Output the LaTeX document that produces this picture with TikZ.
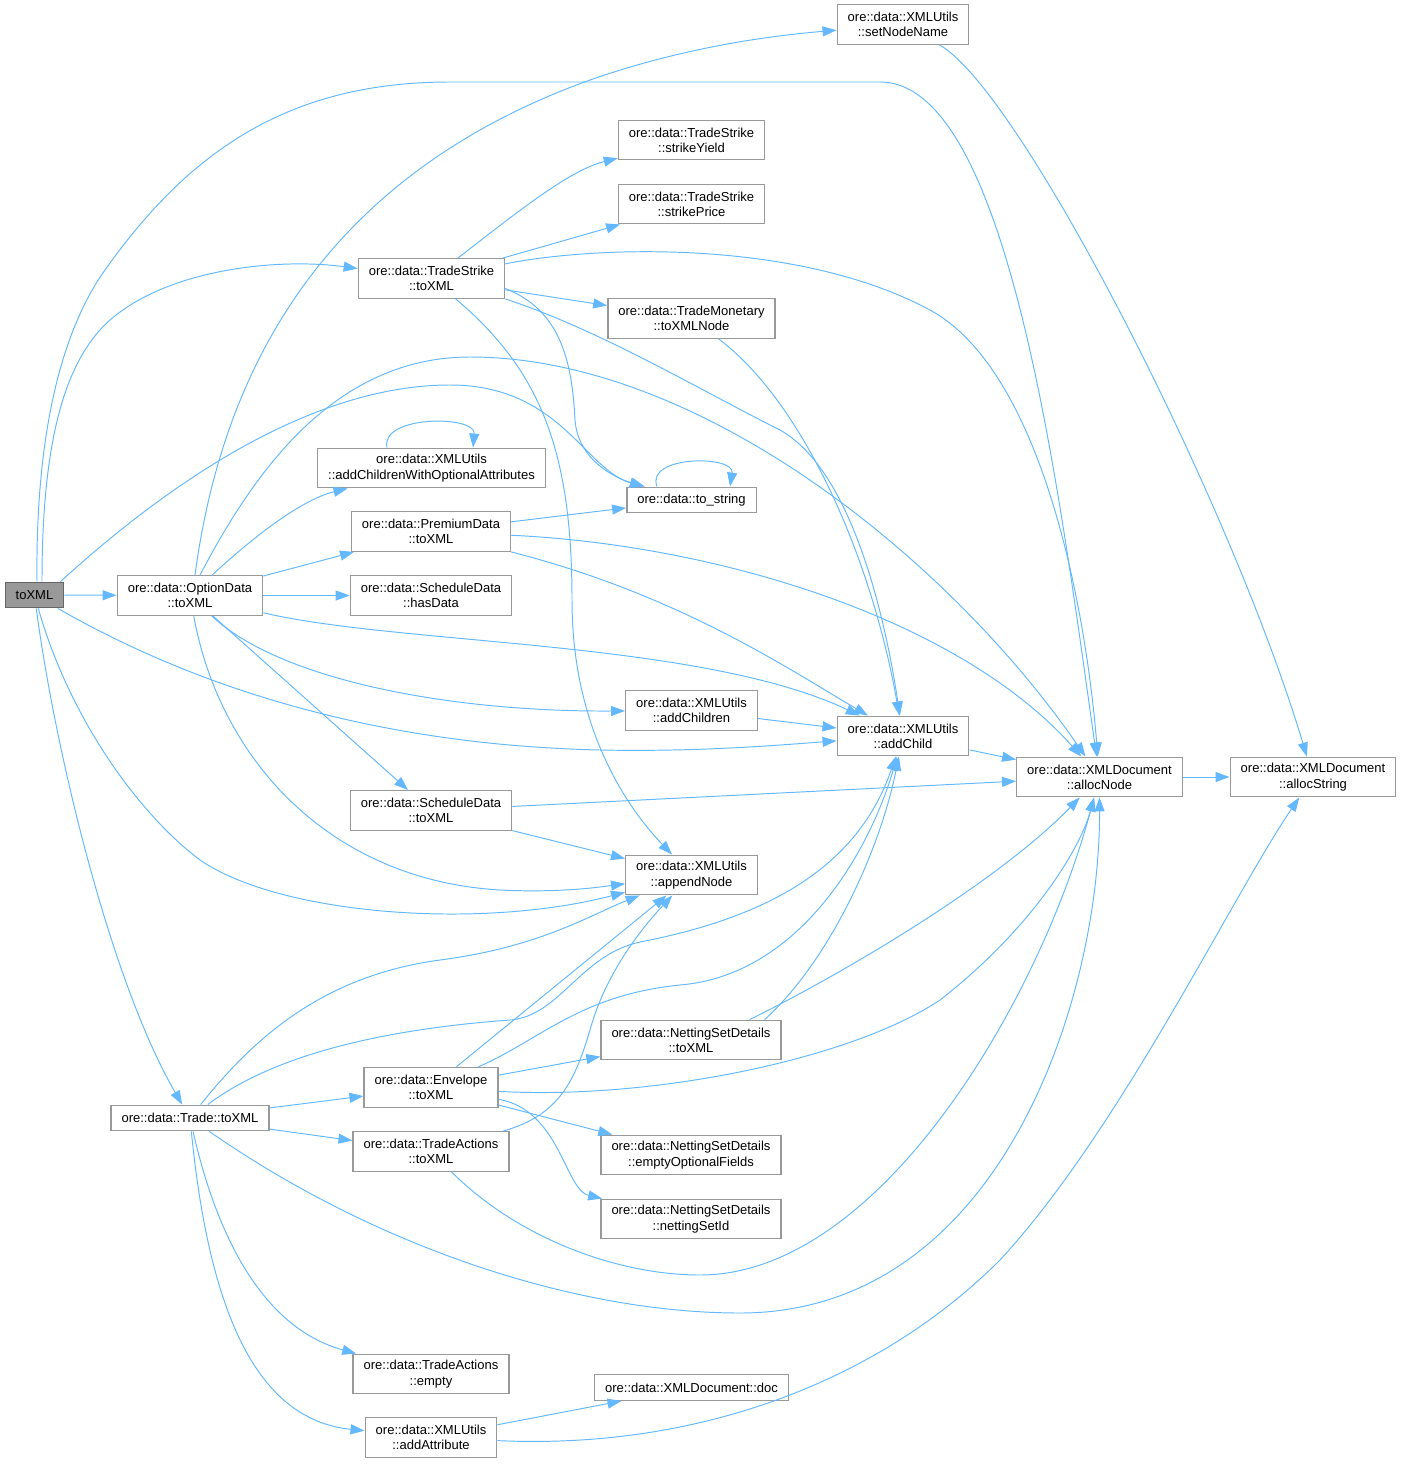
\documentclass[tikz,border=0pt]{standalone}
\usepackage{fontspec}
\setmainfont{Liberation Sans}
\usetikzlibrary{arrows.meta}
\definecolor{edgeblue}{HTML}{63B8FF}
\definecolor{boxgray}{HTML}{999999}
\definecolor{rootline}{HTML}{666666}
\begin{document}
\begin{tikzpicture}[x=0.02cm,y=-0.02cm,
  every node/.style={draw=boxgray,line width=0.8pt,fill=white,rectangle,align=center,inner xsep=0.21cm,inner ysep=1pt,minimum height=0.79cm,font=\fontsize{7.4}{8.7}\selectfont},
  one/.style={minimum height=0.51cm},
  root/.style={fill=boxgray,draw=rootline},
  call/.style={draw=edgeblue,line width=0.55pt,-{Triangle[length=0.28cm,width=0.2cm]}}]
  \useasboundingbox (0,0) rectangle (1401,1464);

  \node[root,one] (root) at (34.5,595) {toXML};
  \node (optd) at (190,595.5) {ore::data::OptionData\\::toXML};
  \node[one] (trade) at (190,1118) {ore::data::Trade::toXML};
  \node (setname) at (903,24.5) {ore::data::XMLUtils\\::setNodeName};
  \node (syield) at (691.5,140) {ore::data::TradeStrike\\::strikeYield};
  \node (sprice) at (691.5,204) {ore::data::TradeStrike\\::strikePrice};
  \node (tsxml) at (431.5,278.5) {ore::data::TradeStrike\\::toXML};
  \node (tmon) at (691.5,318.5) {ore::data::TradeMonetary\\::toXMLNode};
  \node (addcwoa) at (431.5,468) {ore::data::XMLUtils\\::addChildrenWithOptionalAttributes};
  \node[one] (tostr) at (691.5,500) {ore::data::to\_string};
  \node (prem) at (431,531.5) {ore::data::PremiumData\\::toXML};
  \node (hasdata) at (431,595.5) {ore::data::ScheduleData\\::hasData};
  \node (addch) at (691.5,710.5) {ore::data::XMLUtils\\::addChildren};
  \node (addc) at (903,736) {ore::data::XMLUtils\\::addChild};
  \node (anode) at (1099.5,777) {ore::data::XMLDocument\\::allocNode};
  \node (astr) at (1313,777) {ore::data::XMLDocument\\::allocString};
  \node (sched) at (431,810.5) {ore::data::ScheduleData\\::toXML};
  \node (append) at (691.5,875) {ore::data::XMLUtils\\::appendNode};
  \node (nsxml) at (691,1040) {ore::data::NettingSetDetails\\::toXML};
  \node (env) at (431,1087.5) {ore::data::Envelope\\::toXML};
  \node (taxml) at (431,1151.5) {ore::data::TradeActions\\::toXML};
  \node (nsempty) at (691,1155) {ore::data::NettingSetDetails\\::emptyOptionalFields};
  \node (nsid) at (691,1219) {ore::data::NettingSetDetails\\::nettingSetId};
  \node (taempty) at (431,1374) {ore::data::TradeActions\\::empty};
  \node[one] (doc) at (691.5,1387.5) {ore::data::XMLDocument::doc};
  \node (addattr) at (431,1437.5) {ore::data::XMLUtils\\::addAttribute};

  \draw[call] ([xshift=0.05cm]root.north) .. controls (35,400) and (75,312) .. (105,270) .. controls (190,150) and (290,82) .. (450,82) -- (880,82) .. controls (1010,82) and (1060,500) .. (anode);
  \draw[call] ([xshift=0.15cm]root.north) .. controls (42,440) and (65,360) .. (110,320) .. controls (170,268) and (280,258) .. (tsxml);
  \draw[call] ([xshift=-0.08cm]root.north east) .. controls (150,500) and (300,385) .. (450,385) .. controls (560,385) and (585,470) .. (tostr);
  \draw[call] (root) -- (optd);
  \draw[call] (root) .. controls (200,690) and (380,745) .. (600,750) .. controls (700,752) and (780,745) .. (addc);
  \draw[call] (root) .. controls (70,720) and (140,815) .. (200,860) .. controls (280,915) and (480,930) .. (append);
  \draw[call] (root) .. controls (55,750) and (110,980) .. (trade);

  \draw[call] ([xshift=0.1cm]optd.north) .. controls (225,350) and (340,170) .. (590,80) .. controls (690,45) and (780,35) .. (setname);
  \draw[call] ([xshift=0.2cm]optd.north) .. controls (250,480) and (330,357) .. (470,357) .. controls (700,357) and (950,560) .. (anode);
  \draw[call] (optd) .. controls (250,540) and (300,500) .. (addcwoa);
  \draw[call] (optd) -- (prem);
  \draw[call] (optd) -- (hasdata);
  \draw[call] (optd) .. controls (400,645) and (700,640) .. (addc);
  \draw[call] (optd) .. controls (280,680) and (450,712) .. (addch);
  \draw[call] (optd) -- (sched);
  \draw[call] (optd) .. controls (220,760) and (330,880) .. (500,890) .. controls (560,893) and (600,887) .. (append);

  \draw[call] (tsxml) .. controls (520,210) and (570,170) .. (syield);
  \draw[call] (tsxml) -- (sprice);
  \draw[call] (tsxml) .. controls (600,245) and (800,240) .. (930,310) .. controls (1040,370) and (1085,600) .. (anode);
  \draw[call] (tsxml) -- (tmon);
  \draw[call] ([yshift=-0.2cm]tsxml.east) .. controls (560,310) and (572,360) .. (575,420) .. controls (578,460) and (615,478) .. (tostr);
  \draw[call] (tsxml.south east) .. controls (600,330) and (700,390) .. (780,430) .. controls (860,475) and (890,650) .. (addc);
  \draw[call] (tsxml) .. controls (540,370) and (572,450) .. (572,600) .. controls (572,720) and (620,800) .. (append);
  \draw[call] (tmon) .. controls (800,400) and (870,550) .. (addc);
  \draw[call] (setname) .. controls (1020,90) and (1230,500) .. (astr);

  \draw[call] ([xshift=-0.89cm]addcwoa.north) .. controls (380,415) and (476,415) .. ([xshift=0.83cm]addcwoa.north);
  \draw[call] ([xshift=-0.69cm]tostr.north) .. controls (645,455) and (735,455) .. ([xshift=0.77cm]tostr.north);

  \draw[call] (prem) -- (tostr);
  \draw[call] (prem) .. controls (720,545) and (960,620) .. (anode);
  \draw[call] (prem) .. controls (680,595) and (790,670) .. (addc);
  \draw[call] (addch) -- (addc);
  \draw[call] (addc) -- (anode);
  \draw[call] (anode) -- (astr);
  \draw[call] (sched) -- (anode);
  \draw[call] (sched) -- (append);

  \draw[call] (trade) .. controls (260,1030) and (330,975) .. (440,960) .. controls (540,947) and (590,915) .. (append);
  \draw[call] (trade) .. controls (280,1050) and (400,1028) .. (510,1020) .. controls (560,1016) and (580,955) .. (640,942) .. controls (780,915) and (860,860) .. (addc);
  \draw[call] (trade) -- (env);
  \draw[call] (trade) -- (taxml);
  \draw[call] (trade) .. controls (380,1250) and (580,1313) .. (740,1313) .. controls (1000,1313) and (1100,1000) .. (anode);
  \draw[call] (trade) .. controls (220,1250) and (270,1330) .. (taempty);
  \draw[call] (trade) .. controls (210,1320) and (260,1420) .. (addattr);

  \draw[call] (env) -- (append);
  \draw[call] (env) .. controls (540,1040) and (580,995) .. (680,985) .. controls (800,975) and (870,850) .. (addc);
  \draw[call] (env) -- (nsxml);
  \draw[call] (env) .. controls (650,1100) and (850,1060) .. (940,1000) .. controls (1030,930) and (1080,850) .. (anode);
  \draw[call] (env) -- (nsempty);
  \draw[call] (env) .. controls (560,1110) and (565,1190) .. (nsid);
  \draw[call] ([xshift=-0.34cm]nsxml.north east) .. controls (830,960) and (880,850) .. (addc);
  \draw[call] ([xshift=-0.64cm]nsxml.north east) .. controls (850,970) and (1000,880) .. (anode);
  \draw[call] (taxml) .. controls (560,1115) and (575,1080) .. (590,1030) .. controls (605,975) and (640,930) .. (append);
  \draw[call] (taxml) .. controls (520,1240) and (620,1275) .. (700,1275) .. controls (880,1275) and (1040,1000) .. (anode);
  \draw[call] (addattr) -- (doc);
  \draw[call] (addattr) .. controls (700,1450) and (880,1380) .. (1000,1260) .. controls (1120,1130) and (1230,900) .. (astr);
\end{tikzpicture}
\end{document}
